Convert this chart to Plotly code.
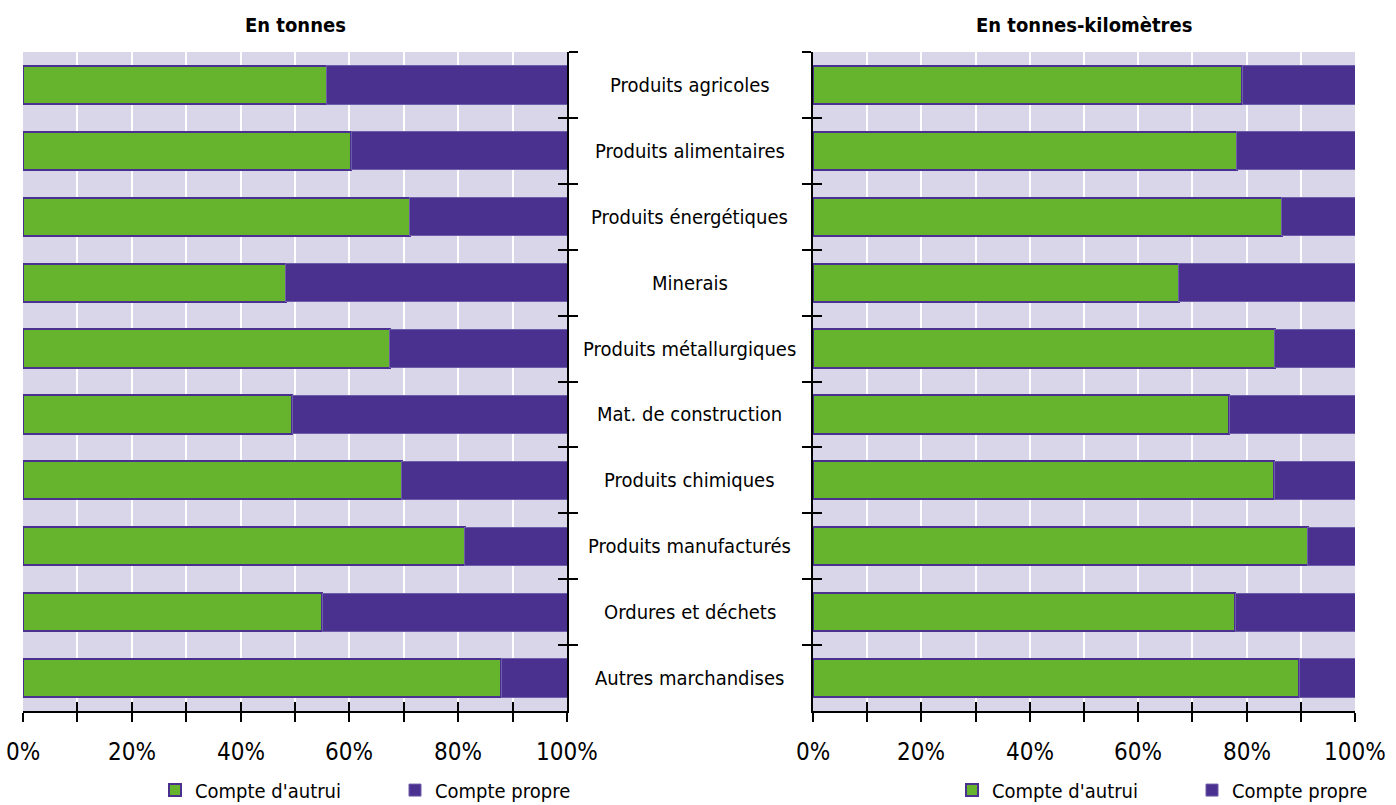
import numpy as np
import plotly.graph_objects as go

categories = ["Produits agricoles", "Produits alimentaires", "Produits énergétiques",
              "Minerais", "Produits métallurgiques", "Mat. de construction",
              "Produits chimiques", "Produits manufacturés", "Ordures et déchets",
              "Autres marchandises"]
tonnes_autrui = [55.8, 60.3, 71.1, 48.3, 67.4, 49.5, 69.6, 81.2, 55.0, 87.9]
tonnes_propre = [round(100 - v, 1) for v in tonnes_autrui]
tkm_autrui = [79.2, 78.2, 86.5, 67.5, 85.2, 76.8, 85.1, 91.3, 77.9, 89.7]
tkm_propre = [round(100 - v, 1) for v in tkm_autrui]
x_ticks = list(range(0, 101, 10))
x_tick_labels = ["0%", "", "20%", "", "40%", "", "60%", "", "80%", "", "100%"]
series_names = ["Compte d'autrui", "Compte propre"]
titles = ["En tonnes", "En tonnes-kilomètres"]

GREEN = "#66B42E"
PURPLE = "#4A3190"
BG = "#D9D6E9"
FONT = "DejaVu Sans Condensed, Liberation Sans Narrow, Arial Narrow, sans-serif"

fig = go.Figure()

def add_panel(autrui, propre, xa, ya, legend):
    fig.add_trace(go.Bar(y=categories, x=autrui, orientation="h", name=series_names[0],
                         marker=dict(color=GREEN, line=dict(color=PURPLE, width=2)),
                         width=0.58, xaxis=xa, yaxis=ya, legend=legend))
    fig.add_trace(go.Bar(y=categories, x=propre, orientation="h", name=series_names[1],
                         marker=dict(color=PURPLE, line=dict(color="#6E5DAA", width=1)),
                         width=0.58, xaxis=xa, yaxis=ya, legend=legend))

add_panel(tonnes_autrui, tonnes_propre, "x", "y", "legend")
add_panel(tkm_autrui, tkm_propre, "x2", "y2", "legend2")

# dummy traces so overlay axes (inside ticks) get drawn
fig.add_trace(go.Scatter(x=[None], y=[None], xaxis="x3", yaxis="y3", showlegend=False, hoverinfo="skip"))
fig.add_trace(go.Scatter(x=[None], y=[None], xaxis="x4", yaxis="y4", showlegend=False, hoverinfo="skip"))

n = len(categories)
bounds = list(np.arange(n + 1) - 0.5)

W, H = 1396, 805
ml, mr, mt, mb = 23, 41, 52, 94
pw = W - ml - mr
d1 = [0, (567 - ml) / pw]
d2 = [(813 - ml) / pw, 1]

xcommon = dict(range=[0, 100], tickvals=x_ticks, ticks="outside", showticklabels=False,
               ticklen=9, tickwidth=2, tickcolor="black", showline=True, linecolor="black",
               linewidth=2, showgrid=True, gridcolor="white", gridwidth=2, zeroline=False,
               automargin=False)
ycommon = dict(type="category", categoryorder="array", categoryarray=categories,
               autorange="reversed", tickson="boundaries", ticks="outside", ticklen=9,
               tickwidth=2, tickcolor="black", showline=True, linecolor="black", linewidth=2,
               showticklabels=False, showgrid=False, zeroline=False, automargin=False)
xover = dict(range=[0, 100], tickvals=x_ticks, ticks="inside", ticklen=9, tickwidth=2,
             tickcolor="black", showticklabels=False, showgrid=False, showline=False,
             zeroline=False, automargin=False)
yover = dict(range=[n - 0.5, -0.5], tickvals=bounds, ticks="inside", ticklen=9, tickwidth=2,
             tickcolor="black", showticklabels=False, showgrid=False, showline=False,
             zeroline=False, automargin=False)

fig.update_layout(
    width=W, height=H, barmode="stack",
    margin=dict(l=ml, r=mr, t=mt, b=mb, pad=0, autoexpand=False),
    paper_bgcolor="white", plot_bgcolor=BG,
    font=dict(family=FONT, size=20, color="black"),
    xaxis=dict(domain=d1, anchor="y", **xcommon),
    yaxis=dict(domain=[0, 1], anchor="x", side="right", **ycommon),
    xaxis2=dict(domain=d2, anchor="y2", **xcommon),
    yaxis2=dict(domain=[0, 1], anchor="x2", side="left", **ycommon),
    xaxis3=dict(overlaying="x", anchor="y3", side="bottom", **xover),
    yaxis3=dict(overlaying="y", anchor="x3", side="right", **yover),
    xaxis4=dict(overlaying="x2", anchor="y4", side="bottom", **xover),
    yaxis4=dict(overlaying="y2", anchor="x4", side="left", **yover),
    legend=dict(orientation="h", x=(155 - ml) / pw, xanchor="left", y=-0.12, yanchor="middle",
                traceorder="normal", entrywidth=195, itemwidth=30,
                font=dict(family=FONT, size=20), bgcolor="rgba(0,0,0,0)"),
    legend2=dict(orientation="h", x=(952 - ml) / pw, xanchor="left", y=-0.12, yanchor="middle",
                 traceorder="normal", entrywidth=195, itemwidth=30,
                 font=dict(family=FONT, size=20), bgcolor="rgba(0,0,0,0)"),
    showlegend=True,
)

annotations = []
for i, t in enumerate(titles):
    d = d1 if i == 0 else d2
    annotations.append(dict(text="<b>" + t + "</b>", x=(d[0] + d[1]) / 2, xref="paper",
                            xanchor="center", y=1, yref="paper", yanchor="middle", yshift=27,
                            showarrow=False, font=dict(family=FONT, size=20, color="black")))
for c in categories:
    annotations.append(dict(text=c, x=(d1[1] + d2[0]) / 2, xref="paper", xanchor="center",
                            y=c, yref="y", yanchor="middle", showarrow=False,
                            font=dict(family=FONT, size=20, color="black")))
for xr in ["x", "x2"]:
    for v, lab in zip(x_ticks, x_tick_labels):
        if lab:
            annotations.append(dict(text=lab, x=v, xref=xr, xanchor="center", y=0,
                                    yref="paper", yanchor="middle", yshift=-41,
                                    showarrow=False,
                                    font=dict(family=FONT, size=24, color="black")))
fig.update_layout(annotations=annotations)

fig.write_html("out.html", config={"displayModeBar": False},
               post_script="document.body.style.margin='0';document.body.style.overflow='hidden';")
